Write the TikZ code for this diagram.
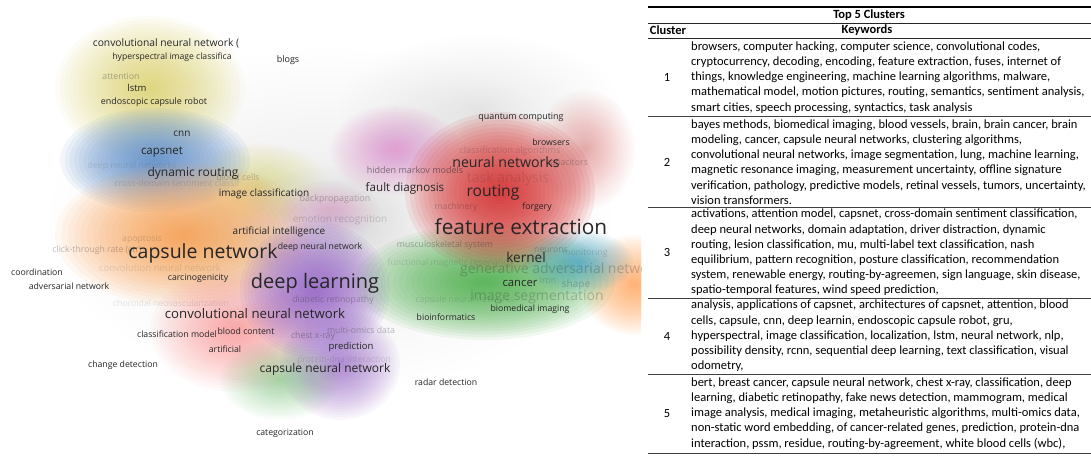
\documentclass[tikz,border=0pt]{standalone}
\usepackage{fontspec}
\setmainfont{Carlito}
\newfontfamily\mapfont{Open Sans}

\definecolor{ink}{HTML}{262626}
\definecolor{cYel}{HTML}{D8CC50}
\definecolor{cBlue}{HTML}{5A8CCB}
\definecolor{cOrange}{HTML}{FF9A40}
\definecolor{cPink}{HTML}{FF8080}
\definecolor{cPurple}{HTML}{9560C8}
\definecolor{cGreen}{HTML}{48B048}
\definecolor{cRed}{HTML}{D83030}
\definecolor{cMagenta}{HTML}{E078C8}
\definecolor{cTeal}{HTML}{3EA0C0}
\definecolor{cLav}{HTML}{B8B0E0}
\definecolor{cHaze}{HTML}{C8CCD8}

% a soft density blob: stacked translucent ellipses, #6 = opacity at the centre
\newcommand\blob[6]{%
  \pgfmathsetmacro\blobop{1-(1-#6)^(1/24)}%
  \foreach \k in {1,...,24}{%
    \fill[#1, fill opacity=\blobop] (#2,#3) ellipse [x radius={#4*(\k/24)^1.2}, y radius={#5*(\k/24)^1.2}];
  }}

\tikzset{
  lbl/.style={font=\mapfont\fontsize{#1}{#1}\selectfont, text=ink, inner sep=0pt},
  dim/.style={text opacity=#1},
  tabtxt/.style={font=\fontsize{12.5}{15.2}\selectfont, align=left, inner sep=0pt, anchor=west},
  num/.style={font=\fontsize{12.5}{15.2}\selectfont, inner sep=0pt},
  hdr/.style={font=\bfseries\fontsize{12.5}{15.2}\selectfont, inner sep=0pt},
  rulethick/.style={line width=1.3pt, black},
  rulethin/.style={line width=0.7pt, black!85},
  rulerow/.style={line width=1pt, black!75},
}

\begin{document}
\begin{tikzpicture}[x=1pt,y=-1pt]
\useasboundingbox (0,0) rectangle (1091,457);
\fill[white] (0,0) rectangle (1091,457);

% ---------------- density map ----------------
\begin{scope}
\clip (0,0) rectangle (641,457);
\blob{cHaze}{330}{220}{280}{170}{0.2}
\blob{cHaze}{480}{110}{140}{75}{0.3}
\blob{cYel}{150}{88}{95}{72}{0.7}
\blob{cYel}{258}{185}{70}{42}{0.5}
\blob{cBlue}{155}{160}{95}{52}{0.85}
\blob{cOrange}{185}{235}{130}{72}{0.8}
\blob{cOrange}{635}{285}{55}{50}{0.7}
\blob{cPink}{235}{330}{85}{62}{0.6}
\blob{cLav}{330}{225}{90}{60}{0.3}
\blob{cMagenta}{395}{150}{65}{45}{0.6}
\blob{cMagenta}{330}{210}{50}{30}{0.3}
\blob{cPurple}{315}{290}{75}{68}{0.85}
\blob{cPurple}{340}{365}{60}{55}{0.7}
\blob{cGreen}{485}{282}{130}{58}{0.85}
\blob{cGreen}{280}{380}{60}{40}{0.45}
\blob{cRed}{500}{192}{95}{80}{0.9}
\blob{cRed}{585}{150}{50}{60}{0.4}
\blob{cTeal}{578}{262}{55}{32}{0.7}

% faint labels
\node[lbl=8.7, dim=0.35] (attention) at (121,76) {attention};
\node[lbl=8.7, dim=0.12] (dnns) at (132,166) {deep neural networks};
\node[lbl=8.7, dim=0.25] (bloodcells) at (238,177) {blood cells};
\node[lbl=8.7, dim=0.15] (crossdom) at (177,183) {cross-domain sentiment classif};
\node[lbl=9, dim=0.3] (backprop) at (335,199) {backpropagation};
\node[lbl=10, dim=0.2] (emotion) at (340,220) {emotion recognition};
\node[lbl=8.7, dim=0.2] (apoptosis) at (142,239) {apoptosis};
\node[lbl=8.7, dim=0.3] (ctr) at (97,250) {click-through rate (ctr)};
\node[lbl=9.5, dim=0.12] (convolnn) at (160,268) {convolution neural network};
\node[lbl=8.7, dim=0.3] (diabetic) at (333,300) {diabetic retinopathy};
\node[lbl=8.7, dim=0.12] (choroidal) at (171,303) {choroidal neovascularization};
\node[lbl=8.7, dim=0.3] (multiomics) at (361,330) {multi-omics data};
\node[lbl=8.7, dim=0.35] (chestxray) at (313,336) {chest x-ray};
\node[lbl=8.7, dim=0.15] (proteindna) at (344,360) {protein-dna interaction};
\node[lbl=9, dim=0.2] (classalg) at (510,151) {classification algorithms};
\node[lbl=8.7, dim=0.3] (capacitors) at (567,163) {capacitors};
\node[lbl=14, dim=0.15] (taskan) at (508,179) {task analysis};
\node[lbl=8.7, dim=0.3] (machinery) at (456,207) {machinery};
\node[lbl=8.7, dim=0.35] (musculo) at (445,245) {musculoskeletal system};
\node[lbl=8.7, dim=0.25] (neurons) at (551,250) {neurons};
\node[lbl=8.7, dim=0.2] (monitoring) at (585,253) {monitoring};
\node[lbl=8.7, dim=0.15] (fmri) at (450,263) {functional magnetic resonance};
\node[lbl=14, dim=0.25] (gan) at (561,270) {generative adversarial network};
\node[lbl=8.7, dim=0.2] (iron) at (548,280) {iron};
\node[lbl=10, dim=0.25] (shape) at (576,285) {shape};
\node[lbl=8.7, dim=0.15] (capsnns) at (465,300) {capsule neural networks};
\node[lbl=14, dim=0.25] (imgseg) at (537,297) {image segmentation};
\node[lbl=9, dim=0.55] (hmm) at (415,170) {hidden markov models};

% main labels
\node[lbl=10.3] (cnnparen) at (166,43) {convolutional neural network (};
\node[lbl=8.6] (hyper) at (172,57) {hyperspectral image classifica};
\node[lbl=9] (blogs) at (288,60) {blogs};
\node[lbl=9.5] (lstm) at (137,88) {lstm};
\node[lbl=8.9] (endo) at (154,102) {endoscopic capsule robot};
\node[lbl=10] (cnn) at (182,134) {cnn};
\node[lbl=11.5] (capsnet) at (162,152) {capsnet};
\node[lbl=12] (dynrout) at (193,173) {dynamic routing};
\node[lbl=10] (imgclass) at (264,194) {image classification};
\node[lbl=10] (artint) at (279,232) {artificial intelligence};
\node[lbl=19.5] (capsnetwork) at (203,253) {capsule network};
\node[lbl=8.7] (dnn) at (320,247) {deep neural network};
\node[lbl=8.7] (coord) at (37,272) {coordination};
\node[lbl=8.7] (advnet) at (69,286) {adversarial network};
\node[lbl=8.7] (carcino) at (198,278) {carcinogenicity};
\node[lbl=20] (deeplearn) at (315,283) {deep learning};
\node[lbl=13.2] (convnn) at (255,314) {convolutional neural network};
\node[lbl=8.7] (classmodel) at (177,334) {classification model};
\node[lbl=8.7] (bloodcontent) at (246,331) {blood content};
\node[lbl=8.7] (artificial) at (225,349) {artificial};
\node[lbl=9.5] (prediction) at (351,347) {prediction};
\node[lbl=8.7] (changedet) at (123,365) {change detection};
\node[lbl=12] (capsnn) at (325,369) {capsule neural network};
\node[lbl=8.7] (categ) at (285,433) {categorization};
\node[lbl=8.7] (radar) at (446,382) {radar detection};
\node[lbl=8.9] (quantum) at (521,117) {quantum computing};
\node[lbl=8.7] (browsers) at (551,142) {browsers};
\node[lbl=14.2] (neuralnets) at (506,162) {neural networks};
\node[lbl=11.6] (fault) at (405,188) {fault diagnosis};
\node[lbl=15.6] (routing) at (493,193) {routing};
\node[lbl=8.7] (forgery) at (537,207) {forgery};
\node[lbl=20.8] (featext) at (521,227) {feature extraction};
\node[lbl=13.6] (kernel) at (526,257) {kernel};
\node[lbl=11.3] (cancer) at (520,283) {cancer};
\node[lbl=8.7] (biomed) at (530,309) {biomedical imaging};
\node[lbl=8.7] (bioinf) at (446,317) {bioinformatics};
\end{scope}

% ---------------- cluster table ----------------
\draw[rulethick] (648,7) -- (1091,7);
\draw[rulethin] (648,23) -- (1091,23);
\draw[rulethin] (648,38) -- (1091,38);
\draw[rulerow] (648,117) -- (1091,117);
\draw[rulerow] (648,207) -- (1091,207);
\draw[rulerow] (648,298) -- (1091,298);
\draw[rulerow] (648,374) -- (1091,374);
\draw[rulerow] (648,453) -- (1091,453);

\node[hdr] (title) at (869,15) {Top 5 Clusters};
\node[hdr] (hcluster) at (668,30.5) {Cluster};
\node[hdr] (hkeywords) at (867,30.5) {Keywords};

\node[num] (n1) at (667,77.5) {1};
\node[num] (n2) at (667,162) {2};
\node[num] (n3) at (667,252.5) {3};
\node[num] (n4) at (667,336) {4};
\node[num] (n5) at (667,413.5) {5};

\node[tabtxt] (k1) at (691,77.5) {browsers, computer hacking, computer science, convolutional codes,\\
cryptocurrency, decoding, encoding, feature extraction, fuses, internet of\\
things, knowledge engineering, machine learning algorithms, malware,\\
mathematical model, motion pictures, routing, semantics, sentiment analysis,\\
smart cities, speech processing, syntactics, task analysis};

\node[tabtxt] (k2) at (691,162) {bayes methods, biomedical imaging, blood vessels, brain, brain cancer, brain\\
modeling, cancer, capsule neural networks, clustering algorithms,\\
convolutional neural networks, image segmentation, lung, machine learning,\\
magnetic resonance imaging, measurement uncertainty, offline signature\\
verification, pathology, predictive models, retinal vessels, tumors, uncertainty,\\
vision transformers.};

\node[tabtxt] (k3) at (691,252.5) {activations, attention model, capsnet, cross-domain sentiment classification,\\
deep neural networks, domain adaptation, driver distraction, dynamic\\
routing, lesion classification, mu, multi-label text classification, nash\\
equilibrium, pattern recognition, posture classification, recommendation\\
system, renewable energy, routing-by-agreemen, sign language, skin disease,\\
spatio-temporal features, wind speed prediction,};

\node[tabtxt] (k4) at (691,336) {analysis, applications of capsnet, architectures of capsnet, attention, blood\\
cells, capsule, cnn, deep learnin, endoscopic capsule robot, gru,\\
hyperspectral, image classification, localization, lstm, neural network, nlp,\\
possibility density, rcnn, sequential deep learning, text classification, visual\\
odometry,};

\node[tabtxt] (k5) at (691,413.5) {bert, breast cancer, capsule neural network, chest x-ray, classification, deep\\
learning, diabetic retinopathy, fake news detection, mammogram, medical\\
image analysis, medical imaging, metaheuristic algorithms, multi-omics data,\\
non-static word embedding, of cancer-related genes, prediction, protein-dna\\
interaction, pssm, residue, routing-by-agreement, white blood cells (wbc),};
\end{tikzpicture}
\end{document}
